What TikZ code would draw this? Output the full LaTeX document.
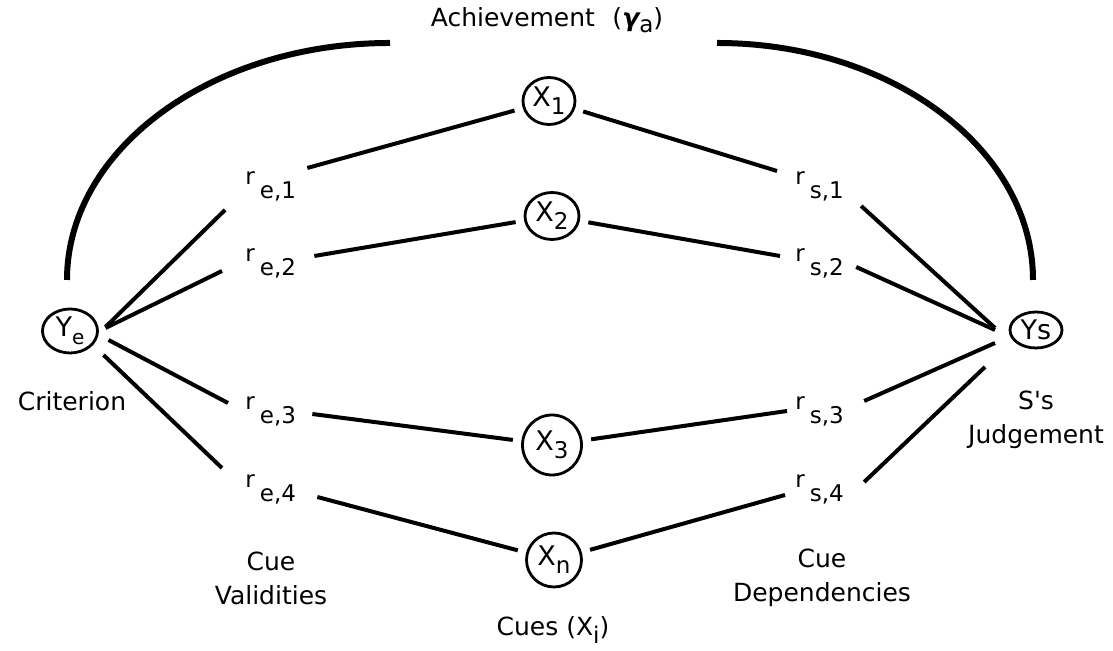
\documentclass[tikz,border=0pt]{standalone}
\usepackage{fontspec}
\setmainfont{DejaVu Sans}
\usetikzlibrary{shapes.geometric}

% r with a lowered index that does not change the height of the node
\newcommand{\rsub}[2]{r\hspace{2.5pt}\smash{\raisebox{-7pt}{#1,#2}}}
\newcommand{\lowidx}[2][4pt]{\raisebox{-#1}{\fontsize{11.5}{14}\selectfont #2}}

\begin{document}
\begin{tikzpicture}[x=0.5pt, y=0.5pt, font=\fontsize{12.5}{17}\selectfont,
	var/.style={ellipse, draw, line width=1.4pt, inner sep=0pt, outer sep=5pt, font=\fontsize{13.5}{16}\selectfont},
	rlab/.style={anchor=west, inner sep=0pt, font=\fontsize{11.5}{14}\selectfont},
	link/.style={line width=2pt},
	arcline/.style={line width=3pt}]
		\useasboundingbox (0, 0) rectangle (1113, 651);
		% criterion, judgement and the cues
		\node[var, minimum width=27.5pt, minimum height=22pt, outer sep=0pt] (Ye) at (70, 320) {Y\lowidx{\fontsize{10}{12}\selectfont e}};
		\node[var, minimum width=26pt, minimum height=18pt, outer sep=0pt] (Ys) at (1036, 321) {Ys};
		\node[var, minimum width=26pt, minimum height=23.5pt] (X1) at (549, 550) {X\lowidx{1}};
		\node[var, minimum width=27pt, minimum height=23.5pt] (X2) at (552, 435) {X\lowidx{2}};
		\node[var, minimum width=29.5pt, minimum height=30pt] (X3) at (552, 206) {X\lowidx{3}};
		\node[var, minimum width=27.5pt, minimum height=27pt] (Xn) at (554, 91) {X\lowidx{n}};
		% correlations
		\foreach \i/\y in {1/473, 2/396, 3/248, 4/170} {
			\node[rlab] (re\i) at (245, \y) {\rsub{e}{\i}};
			\node[rlab] (rs\i) at (795, \y) {\rsub{s}{\i}};
		}
		% texts
		\node (ach) at (547, 631) {Achievement\hspace{0.7em}({\bfseries\itshape γ}\lowidx[3pt]{a})};
		\node (crit) at (72, 250) {Criterion};
		\node[align=center] (judg) at (1036, 231) {S\textquotesingle s\\Judgement};
		\node[align=center] (val) at (271, 73) {Cue\\Validities};
		\node[align=center] (dep) at (822, 73) {Cue\\Dependencies};
		\node (cues) at (553, 21) {Cues (X\lowidx{i})};
		% achievement arcs
		\draw[arcline] ([shift={(-3, 29)}]Ye.north) arc[start angle=180, end angle=90, x radius=161.5pt, y radius=118.5pt];
		\draw[arcline] ([shift={(-3, 32)}]Ys.north) arc[start angle=0, end angle=90, x radius=158pt, y radius=118.5pt];
		% criterion to cues
		\foreach \i/\sx/\sy/\ex/\ey in {1/8/4/-20/-32, 2/8/3/-23/-16, 3/11/-9/-17/0, 4/6/-24/-23/13}
			\draw[link] ([shift={(\sx, \sy)}]Ye.east) -- ([shift={(\ex, \ey)}]re\i.west);
		\foreach \i/\cue/\sx/\sy in {1/X1/11/10, 2/X2/18/-1, 3/X3/16/-11, 4/Xn/21/-16}
			\draw[link] ([shift={(\sx, \sy)}]re\i.east) -- (\cue);
		% cues to judgement
		\foreach \i/\cue/\ex/\ey in {1/X1/-18/7, 2/X2/-15/-1, 3/X3/-8/-8, 4/Xn/-10/-14}
			\draw[link] (\cue) -- ([shift={(\ex, \ey)}]rs\i.west);
		\foreach \i/\sx/\sy/\ex/\ey in {1/17/-28/-15/2, 2/12/-12/-15/0, 3/20/2/-15/-13, 4/20/-1/-25/-37}
			\draw[link] ([shift={(\sx, \sy)}]rs\i.east) -- ([shift={(\ex, \ey)}]Ys.west);
	\end{tikzpicture}
\end{document}
